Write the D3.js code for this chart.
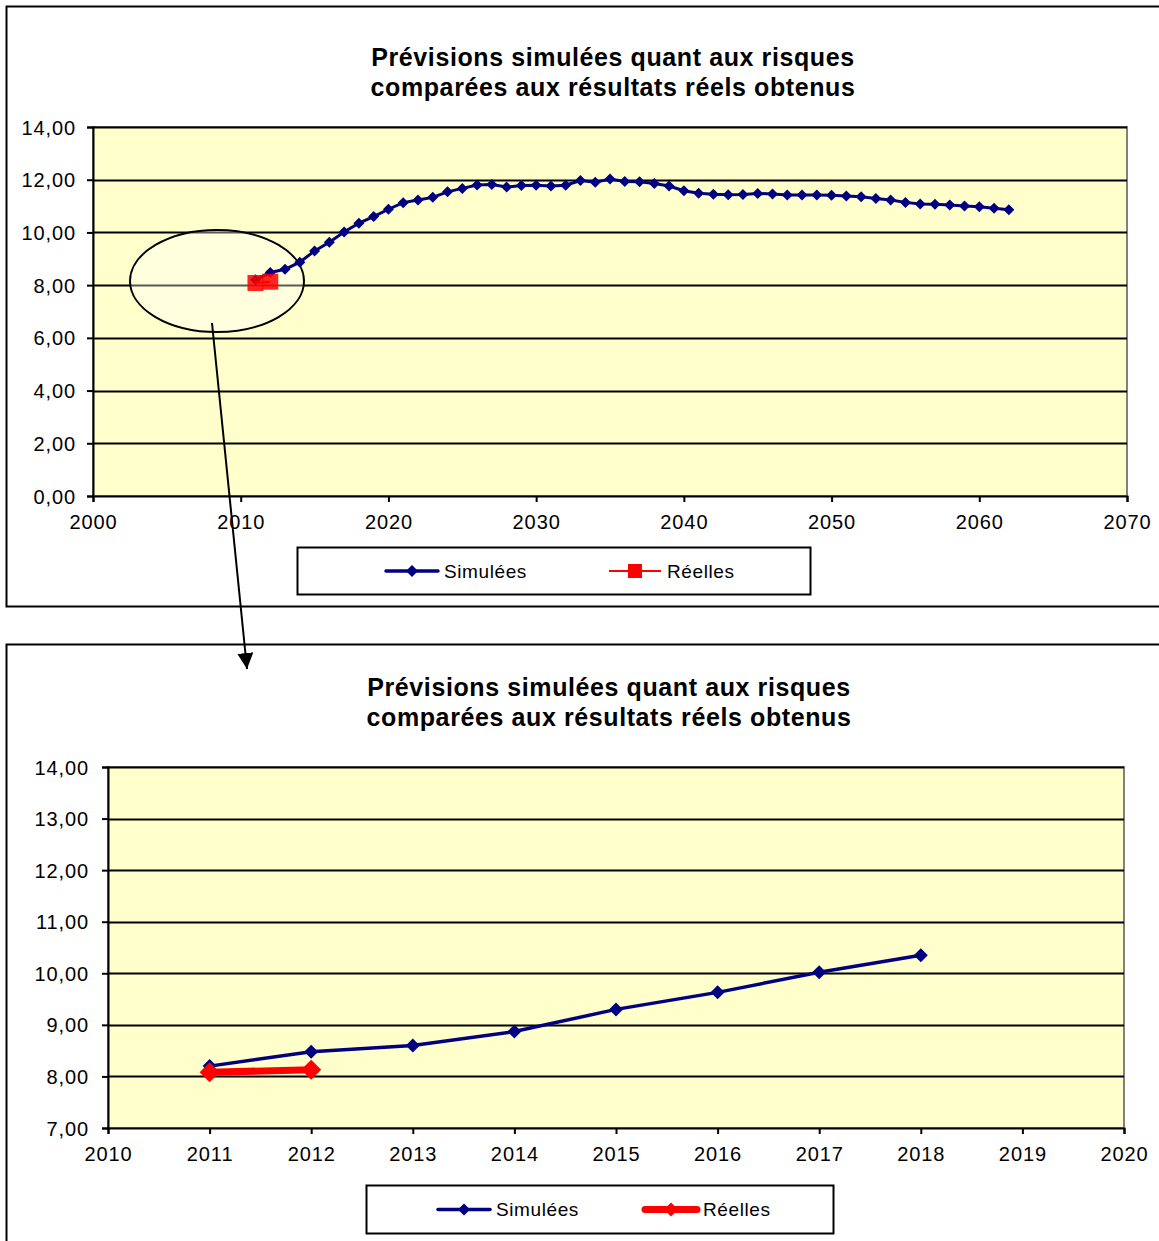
<!DOCTYPE html>
<html>
<head>
<meta charset="utf-8">
<script src="https://cdn.jsdelivr.net/npm/d3@7"></script>
<style>
  html, body { margin: 0; padding: 0; background: #fff; }
  svg { display: block; }
  text { font-family: "Liberation Sans", Arial, sans-serif; fill: #000; }
</style>
</head>
<body>
<svg id="chart" width="1159" height="1241"></svg>
<script>
// Simulated risk ratio, one value per year
const simYears = [2011, 2012, 2013, 2014, 2015, 2016, 2017, 2018, 2019, 2020,
  2021, 2022, 2023, 2024, 2025, 2026, 2027, 2028, 2029, 2030,
  2031, 2032, 2033, 2034, 2035, 2036, 2037, 2038, 2039, 2040,
  2041, 2042, 2043, 2044, 2045, 2046, 2047, 2048, 2049, 2050,
  2051, 2052, 2053, 2054, 2055, 2056, 2057, 2058, 2059, 2060,
  2061, 2062];
const simValues = [8.20, 8.48, 8.60, 8.87, 9.30, 9.63, 10.02, 10.35, 10.60, 10.88,
  11.13, 11.23, 11.33, 11.54, 11.67, 11.80, 11.82, 11.72, 11.78, 11.79,
  11.76, 11.79, 11.97, 11.90, 12.03, 11.93, 11.92, 11.86, 11.76, 11.58,
  11.49, 11.45, 11.43, 11.44, 11.48, 11.46, 11.42, 11.42, 11.42, 11.41,
  11.38, 11.35, 11.29, 11.23, 11.14, 11.08, 11.07, 11.04, 11.00, 10.97,
  10.92, 10.86];

// Observed results
const realYears = [2011, 2012];
const realValues = [8.08, 8.13];

// Axis ticks
const overviewXTicks = [2000, 2010, 2020, 2030, 2040, 2050, 2060, 2070];
const overviewYTicks = [0, 2, 4, 6, 8, 10, 12, 14];
const detailXTicks = [2010, 2011, 2012, 2013, 2014, 2015, 2016, 2017, 2018, 2019, 2020];
const detailYTicks = [7, 8, 9, 10, 11, 12, 13, 14];

const titleLines = ["Prévisions simulées quant aux risques", "comparées aux résultats réels obtenus"];
const seriesNames = ["Simulées", "Réelles"];

const NAVY = "#000080", RED = "#ff0000", PLOT_BG = "#ffffcc";
const fmt = v => d3.format(".2f")(v).replace(".", ",");

const svg = d3.select("#chart");

const sim = simYears.map((y, i) => ({ x: y, y: simValues[i] }));
const real = realYears.map((y, i) => ({ x: y, y: realValues[i] }));

function drawPanel(cfg) {
  const g = svg.append("g");
  // outer frame
  g.append("rect").attr("x", cfg.frame[0] + 0.5).attr("y", cfg.frame[1] + 0.5)
    .attr("width", cfg.frame[2]).attr("height", cfg.frame[3])
    .attr("fill", "#fff").attr("stroke", "#000").attr("stroke-width", 2);

  // title
  g.append("text").attr("x", cfg.titleX).attr("y", cfg.titleY)
    .attr("text-anchor", "middle").style("font-weight", "bold").style("font-size", "25px")
    .style("letter-spacing", "0.6px")
    .selectAll("tspan").data(titleLines).join("tspan")
    .attr("x", cfg.titleX).attr("dy", (d, i) => i ? 30 : 0).text(d => d);

  const x = d3.scaleLinear().domain(cfg.xDomain).range([cfg.plot.x0, cfg.plot.x1]);
  const y = d3.scaleLinear().domain(cfg.yDomain).range([cfg.plot.y1, cfg.plot.y0]);

  // plot area
  g.append("rect").attr("x", cfg.plot.x0).attr("y", cfg.plot.y0)
    .attr("width", cfg.plot.x1 - cfg.plot.x0).attr("height", cfg.plot.y1 - cfg.plot.y0)
    .attr("fill", PLOT_BG).attr("stroke", "#808080").attr("stroke-width", 2);

  // horizontal gridlines
  g.append("g").selectAll("line").data(cfg.yTicks.slice(1)).join("line")
    .attr("x1", cfg.plot.x0).attr("x2", cfg.plot.x1)
    .attr("y1", d => Math.round(y(d)) + 0.5).attr("y2", d => Math.round(y(d)) + 0.5)
    .attr("stroke", "#000").attr("stroke-width", 2);

  // axes
  const yAxis = d3.axisLeft(y).tickValues(cfg.yTicks).tickFormat(fmt).tickSize(6).tickPadding(cfg.yPad);
  const xAxis = d3.axisBottom(x).tickValues(cfg.xTicks).tickFormat(d3.format("d")).tickSize(6).tickPadding(13);
  const ya = g.append("g").attr("transform", `translate(${cfg.plot.x0},0)`).call(yAxis);
  const xa = g.append("g").attr("transform", `translate(0,${cfg.plot.y1})`).call(xAxis);
  [ya, xa].forEach(a => {
    a.select(".domain").attr("stroke", "#000").attr("stroke-width", 2);
    a.selectAll(".tick line").attr("stroke", "#000").attr("stroke-width", 2);
    a.selectAll("text").style("font-size", "20px").style("font-family", "Liberation Sans, Arial, sans-serif")
      .style("letter-spacing", "0.9px").attr("fill", "#000");
  });
  ya.selectAll("text").attr("dy", "0.35em");

  if (cfg.decor) cfg.decor(g, x, y);

  const line = d3.line().x(d => x(d.x)).y(d => y(d.y));
  const diamond = r => `M0,${-r}L${r},0L0,${r}L${-r},0Z`;

  const simData = sim.filter(d => d.x <= cfg.simMax);
  g.append("path").datum(simData).attr("d", line)
    .attr("fill", "none").attr("stroke", NAVY).attr("stroke-width", cfg.simWidth);
  g.append("g").selectAll("path").data(simData).join("path")
    .attr("transform", d => `translate(${x(d.x)},${y(d.y)})`)
    .attr("d", diamond(cfg.simMarker)).attr("fill", NAVY);

  g.append("path").datum(real).attr("d", line)
    .attr("fill", "none").attr("stroke", RED).attr("stroke-width", cfg.realWidth);
  if (cfg.realSquare) {
    g.append("g").selectAll("rect").data(real).join("rect")
      .attr("x", d => x(d.x) - cfg.realSquare / 2).attr("y", d => y(d.y) - cfg.realSquare / 2)
      .attr("width", cfg.realSquare).attr("height", cfg.realSquare)
      .attr("fill", RED).attr("opacity", 0.85);
  } else {
    g.append("g").selectAll("path").data(real).join("path")
      .attr("transform", d => `translate(${x(d.x)},${y(d.y)})`)
      .attr("d", diamond(cfg.realMarker)).attr("fill", RED);
  }

  // legend
  const L = cfg.legend;
  g.append("rect").attr("x", L.x + 0.5).attr("y", L.y + 0.5).attr("width", L.w).attr("height", L.h)
    .attr("fill", "#fff").attr("stroke", "#000").attr("stroke-width", 2);
  const cy = L.y + L.h / 2 + 0.5;
  const items = [
    { name: seriesNames[0], x: L.items[0], color: NAVY, w: 3.5, mark: "diamond", r: 6 },
    { name: seriesNames[1], x: L.items[1], color: RED, w: cfg.realSquare ? 2 : 7, mark: cfg.realSquare ? "square" : "diamond", r: 7 }
  ];
  items.forEach(it => {
    g.append("line").attr("x1", it.x).attr("x2", it.x + 52).attr("y1", cy).attr("y2", cy)
      .attr("stroke", it.color).attr("stroke-width", it.w).attr("stroke-linecap", it.w > 3 ? "round" : "butt");
    if (it.mark === "diamond") {
      g.append("path").attr("transform", `translate(${it.x + 26},${cy})`).attr("d", diamond(it.r)).attr("fill", it.color);
    } else {
      g.append("rect").attr("x", it.x + 26 - it.r).attr("y", cy - it.r).attr("width", it.r * 2).attr("height", it.r * 2).attr("fill", it.color);
    }
    g.append("text").attr("x", it.x + 58).attr("y", cy).attr("dy", "0.36em")
      .style("font-size", "19px").style("letter-spacing", "0.6px").text(it.name);
  });
}

// Overview: full horizon 2000–2070
drawPanel({
  frame: [6, 6, 1170, 600],
  titleX: 613, titleY: 66,
  xDomain: [2000, 2070], yDomain: [0, 14],
  plot: { x0: 93, x1: 1127, y0: 127, y1: 496 },
  xTicks: overviewXTicks, yTicks: overviewYTicks, yPad: 11,
  simMax: 2070, simWidth: 3, simMarker: 5.5,
  realWidth: 2, realSquare: 16,
  legend: { x: 297, y: 547, w: 513, h: 47, items: [386, 609] },
  decor: (g, x, y) => {
    // highlight of the first observed years
    g.append("ellipse").attr("cx", 217).attr("cy", 281).attr("rx", 87).attr("ry", 51)
      .attr("fill", "rgba(255,255,255,0.35)").attr("stroke", "#000").attr("stroke-width", 2);
  }
});

// Detail: 2010–2020
drawPanel({
  frame: [6, 644, 1170, 640],
  titleX: 609, titleY: 696,
  xDomain: [2010, 2020], yDomain: [7, 14],
  plot: { x0: 108, x1: 1124, y0: 767, y1: 1128 },
  xTicks: detailXTicks, yTicks: detailYTicks, yPad: 13,
  simMax: 2018, simWidth: 3.5, simMarker: 7,
  realWidth: 7, realMarker: 10,
  legend: { x: 366, y: 1185, w: 467, h: 48, items: [438, 645] }
});

// connector arrow from the highlight to the detail panel
svg.append("defs").append("marker").attr("id", "arrowhead")
  .attr("viewBox", "0 0 10 10").attr("refX", 10).attr("refY", 5)
  .attr("markerWidth", 8).attr("markerHeight", 8).attr("markerUnits", "strokeWidth")
  .attr("orient", "auto")
  .append("path").attr("d", "M0,0L10,5L0,10Z").attr("fill", "#000");
svg.append("line").attr("x1", 212).attr("y1", 323).attr("x2", 247).attr("y2", 669)
  .attr("stroke", "#000").attr("stroke-width", 2).attr("marker-end", "url(#arrowhead)");
</script>
</body>
</html>
